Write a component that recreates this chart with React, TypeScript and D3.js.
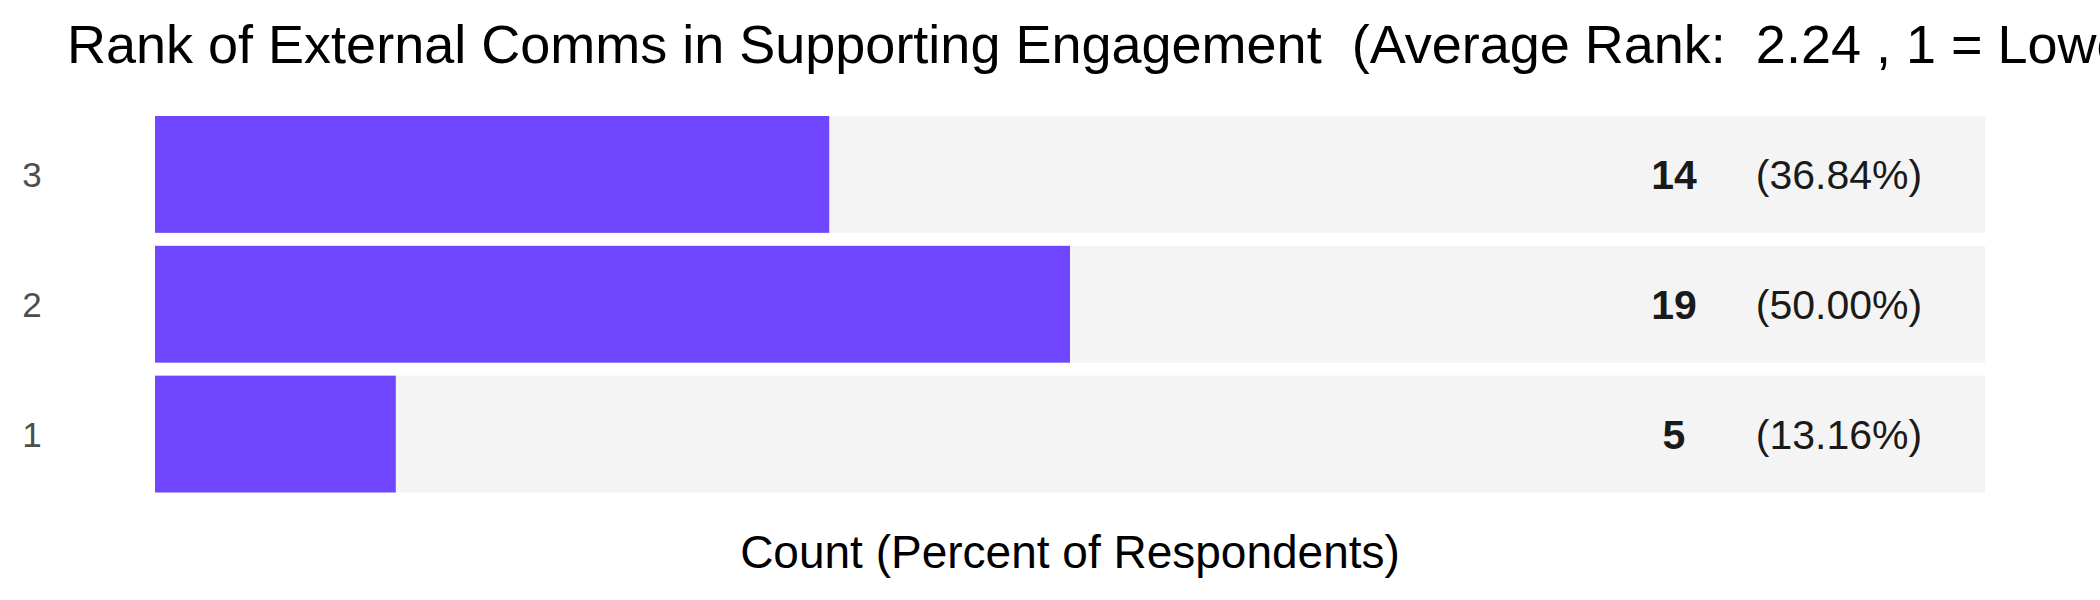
import * as d3 from 'd3';

const ranks = ['3', '2', '1'];
const counts = [14, 19, 5];
const percents = ['36.84%', '50.00%', '13.16%'];
const totalRespondents = 38;
const title = 'Rank of External Comms in Supporting Engagement  (Average Rank:  2.24 , 1 = Lowest)';
const xTitle = 'Count (Percent of Respondents)';

const App = () => {
  const width = 2100;
  const height = 600;
  const font = '"Liberation Sans", Arial, Helvetica, sans-serif';

  const x = d3.scaleLinear([0, totalRespondents], [155, 1985]);
  const y = d3.scaleBand<string>(ranks, [109.5, 499]).paddingInner(0.1).paddingOuter(0.05);

  return (
    <svg width={width} height={height} style={{ position: 'absolute', left: 0, top: 0 }} fontFamily={font}>
      <rect width={width} height={height} fill="#fff" />
      <text x={67} y={63} fontSize={54} fill="#000" style={{ whiteSpace: 'pre' }}>{title}</text>
      {ranks.map((r, i) => {
        const yy = y(r)!;
        const cy = yy + y.bandwidth() / 2;
        return (
          <g key={r}>
            <rect x={x(0)} y={yy} width={x(totalRespondents) - x(0)} height={y.bandwidth()} fill="#f4f4f4" />
            <rect x={x(0)} y={yy} width={x(counts[i]) - x(0)} height={y.bandwidth()} fill="#7047ff" />
            <text x={32} y={cy} dy="0.36em" textAnchor="middle" fontSize={35} fill="#4d4d4d">{r}</text>
            <text x={1674} y={cy} dy="0.36em" textAnchor="middle" fontSize={41} fontWeight="bold" fill="#1a1a1a">{counts[i]}</text>
            <text x={1839} y={cy} dy="0.36em" textAnchor="middle" fontSize={41} fill="#1a1a1a">({percents[i]})</text>
          </g>
        );
      })}
      <text x={(x(0) + x(totalRespondents)) / 2} y={568} textAnchor="middle" fontSize={46} fill="#000">{xTitle}</text>
    </svg>
  );
};

export default App;
